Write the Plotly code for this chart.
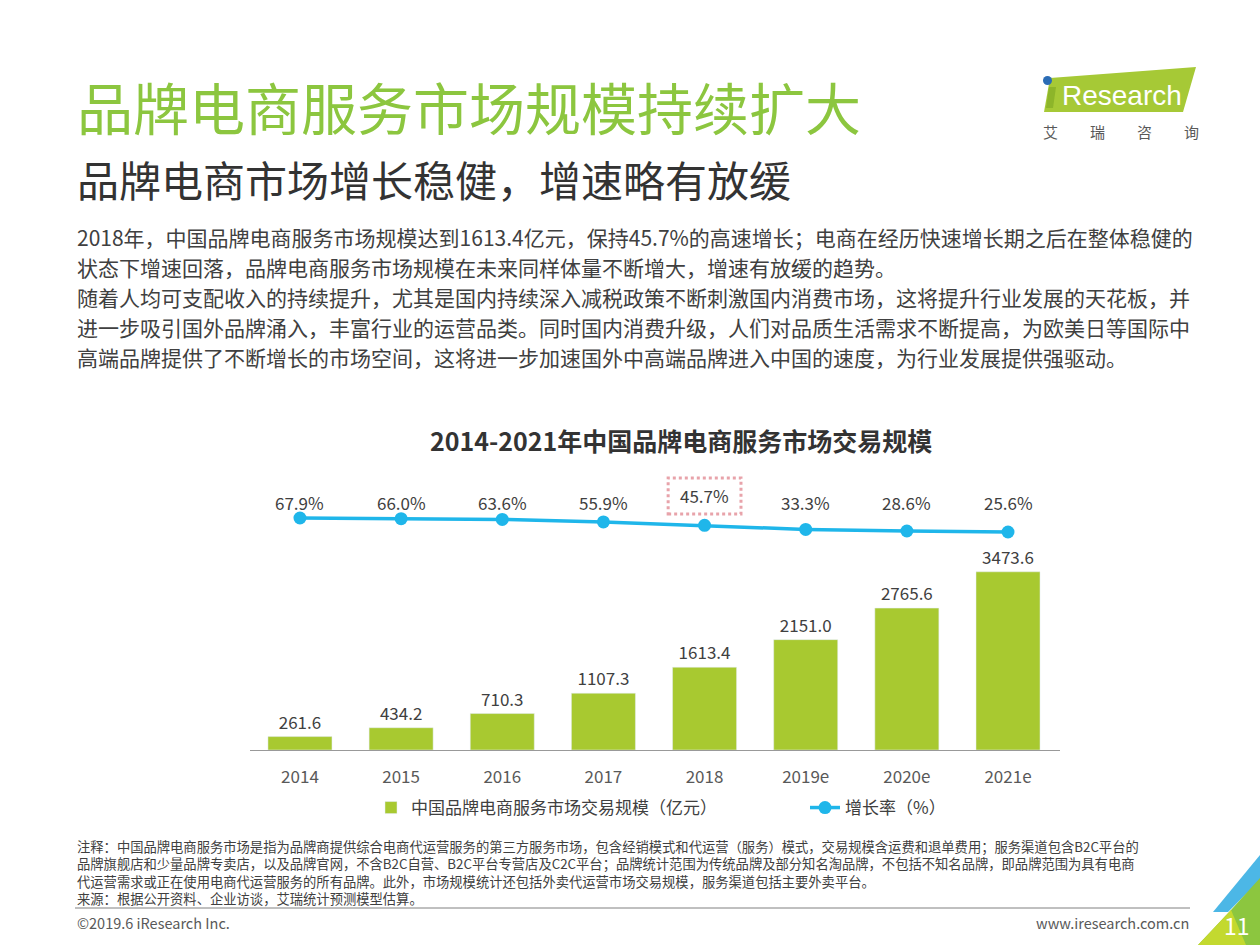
import plotly.graph_objects as go

years = ["2014", "2015", "2016", "2017", "2018", "2019e", "2020e", "2021e"]
scale = [261.6, 434.2, 710.3, 1107.3, 1613.4, 2151.0, 2765.6, 3473.6]
growth = [67.9, 66.0, 63.6, 55.9, 45.7, 33.3, 28.6, 25.6]

bar_name = "中国品牌电商服务市场交易规模（亿元）"
line_name = "增长率（%）"
chart_title = "2014-2021年中国品牌电商服务市场交易规模"
main_title = "品牌电商服务市场规模持续扩大"
sub_title = "品牌电商市场增长稳健，增速略有放缓"
para_lines = [
    "2018年，中国品牌电商服务市场规模达到1613.4亿元，保持45.7%的高速增长；电商在经历快速增长期之后在整体稳健的",
    "状态下增速回落，品牌电商服务市场规模在未来同样体量不断增大，增速有放缓的趋势。",
    "随着人均可支配收入的持续提升，尤其是国内持续深入减税政策不断刺激国内消费市场，这将提升行业发展的天花板，并",
    "进一步吸引国外品牌涌入，丰富行业的运营品类。同时国内消费升级，人们对品质生活需求不断提高，为欧美日等国际中",
    "高端品牌提供了不断增长的市场空间，这将进一步加速国外中高端品牌进入中国的速度，为行业发展提供强驱动。",
]
note_lines = [
    "注释：中国品牌电商服务市场是指为品牌商提供综合电商代运营服务的第三方服务市场，包含经销模式和代运营（服务）模式，交易规模含运费和退单费用；服务渠道包含B2C平台的",
    "品牌旗舰店和少量品牌专卖店，以及品牌官网，不含B2C自营、B2C平台专营店及C2C平台；品牌统计范围为传统品牌及部分知名淘品牌，不包括不知名品牌，即品牌范围为具有电商",
    "代运营需求或正在使用电商代运营服务的所有品牌。此外，市场规模统计还包括外卖代运营市场交易规模，服务渠道包括主要外卖平台。",
    "来源：根据公开资料、企业访谈，艾瑞统计预测模型估算。",
]
logo_cn = ["艾", "瑞", "咨", "询"]

W, H = 1260, 945
FONT = "Noto Sans CJK SC, Noto Sans, sans-serif"
BAR_C = "#a8c930"
LINE_C = "#1fb6ea"
TXT = "#404040"


def py(p):
    return 1 - p / H


fig = go.Figure()
fig.add_trace(go.Bar(
    x=years, y=scale, name=bar_name, marker_color=BAR_C,
    text=[f"{v:.1f}" for v in scale], textposition="outside",
    textfont=dict(size=17, color=TXT, family=FONT), cliponaxis=False,
    yaxis="y",
))
fig.add_trace(go.Scatter(
    x=years, y=growth, name=line_name, mode="lines+markers",
    line=dict(color=LINE_C, width=3.5), marker=dict(color=LINE_C, size=13),
    yaxis="y2", cliponaxis=False,
))

ann = []
shapes = []

# growth labels (x given as category index)
for i, g in enumerate(growth):
    ann.append(dict(x=i, xref="x", y=py(496 if i == 4 else 503), yref="paper",
                    text=f"{g:.1f}%", showarrow=False, yanchor="middle",
                    font=dict(size=17, color=TXT, family=FONT)))

# dashed highlight box around 2018 growth
shapes.append(dict(type="rect", xref="x", yref="paper", x0=4 - 0.36, x1=4 + 0.36,
                   y0=py(514), y1=py(478),
                   line=dict(color="#e8a3aa", width=3, dash="dot")))

# titles
ann.append(dict(x=75 / W, y=py(105), xref="paper", yref="paper", xanchor="left", yanchor="middle",
                text=main_title, showarrow=False, font=dict(size=56, color="#8cc63f", family=FONT)))
ann.append(dict(x=75 / W, y=py(178), xref="paper", yref="paper", xanchor="left", yanchor="middle",
                text=sub_title, showarrow=False, font=dict(size=42, color="#333333", family=FONT)))
for k, line in enumerate(para_lines):
    ann.append(dict(x=75 / W, y=py(237 + 30 * k), xref="paper", yref="paper", xanchor="left",
                    yanchor="middle", text=line, showarrow=False,
                    font=dict(size=21, color=TXT, family=FONT)))
ann.append(dict(x=681 / W, y=py(440), xref="paper", yref="paper", xanchor="center", yanchor="middle",
                text=f"<b>{chart_title}</b>", showarrow=False,
                font=dict(size=25, color="#333333", family=FONT)))
ann.append(dict(x=75 / W, y=py(835), xref="paper", yref="paper", xanchor="left", yanchor="top",
                align="left", text="<br>".join(note_lines), showarrow=False,
                font=dict(size=13.3, color=TXT, family=FONT)))
ann.append(dict(x=75 / W, y=py(922), xref="paper", yref="paper", xanchor="left", yanchor="middle",
                text="©2019.6 iResearch Inc.", showarrow=False,
                font=dict(size=14.5, color="#595959", family=FONT)))
ann.append(dict(x=1191 / W, y=py(922), xref="paper", yref="paper", xanchor="right", yanchor="middle",
                text="www.iresearch.com.cn", showarrow=False,
                font=dict(size=14.5, color="#595959", family=FONT)))

# footer separator
shapes.append(dict(type="line", xref="paper", yref="paper", x0=75 / W, x1=1190 / W,
                   y0=py(908), y1=py(908), line=dict(color="#808080", width=1)))

# corner decoration
shapes.append(dict(type="path", xref="paper", yref="paper",
                   path=f"M {1213/W},{py(912)} L 1,{py(855)} L 1,{py(880)} L {1228/W},{py(912)} Z",
                   fillcolor="#4cb7e6", line=dict(width=0)))
shapes.append(dict(type="path", xref="paper", yref="paper",
                   path=f"M {1198/W},0 L {1231/W},{py(910)} L 1,{py(878)} L 1,0 Z",
                   fillcolor="#8cc63f", line=dict(width=0)))
shapes.append(dict(type="path", xref="paper", yref="paper",
                   path=f"M {1198/W},0 L {1231/W},{py(910)} L {1246/W},0 Z",
                   fillcolor="#c3d92f", line=dict(width=0)))
ann.append(dict(x=1237 / W, y=py(925), xref="paper", yref="paper", xanchor="center", yanchor="middle",
                text="11", showarrow=False, font=dict(size=23, color="white", family=FONT)))

# logo
shapes.append(dict(type="path", xref="paper", yref="paper",
                   path=(f"M {1050/W},{py(78)} L {1196/W},{py(67)} L {1183/W},{py(112)} "
                         f"L {1044/W},{py(112)} Z"),
                   fillcolor="#a6c936", line=dict(width=0)))
shapes.append(dict(type="path", xref="paper", yref="paper",
                   path=(f"M {1049/W},{py(87)} L {1056/W},{py(87)} L {1053/W},{py(108)} "
                         f"L {1046/W},{py(108)} Z"),
                   fillcolor="#8db52a", line=dict(width=0)))
shapes.append(dict(type="circle", xref="paper", yref="paper",
                   x0=1043 / W, x1=1052 / W, y0=py(85), y1=py(76),
                   fillcolor="#2b6cb5", line=dict(width=0)))
ann.append(dict(x=1060 / W, y=py(96), xref="paper", yref="paper", xanchor="left", yanchor="middle",
                text="Research", showarrow=False,
                font=dict(size=28, color="white", family="Liberation Sans, Arial")))
for k, ch in enumerate(logo_cn):
    ann.append(dict(x=(1050 + 47 * k) / W, y=py(132), xref="paper", yref="paper", xanchor="center",
                    yanchor="middle", text=ch, showarrow=False,
                    font=dict(size=15, color="#595959", family=FONT)))

fig.update_layout(
    width=W, height=H, margin=dict(l=0, r=0, t=0, b=0),
    paper_bgcolor="white", plot_bgcolor="white",
    font=dict(family=FONT, color=TXT),
    bargap=0.367,
    xaxis=dict(domain=[250 / W, 1060 / W], range=[-0.494, 7.514], type="category",
               showgrid=False, zeroline=False, showline=True, linecolor="#999999", linewidth=1,
               ticks="", tickfont=dict(size=17, color="#595959", family=FONT),
               ticklabelstandoff=12, anchor="y"),
    yaxis=dict(domain=[py(750), py(560)], range=[0, 190 / 0.0513], visible=False,
               showgrid=False, zeroline=False),
    yaxis2=dict(domain=[py(560), py(480)], range=[67.9 - 42 / 0.33097, 67.9 + 38 / 0.33097],
                visible=False, showgrid=False, zeroline=False, anchor="x"),
    legend=dict(orientation="h", x=371 / W, xanchor="left", y=py(808), yanchor="middle",
                font=dict(size=17, color=TXT, family=FONT), entrywidth=389,
                bgcolor="rgba(0,0,0,0)", itemwidth=30, traceorder="normal"),
    annotations=ann, shapes=shapes,
)

fig.write_html("out.html")
